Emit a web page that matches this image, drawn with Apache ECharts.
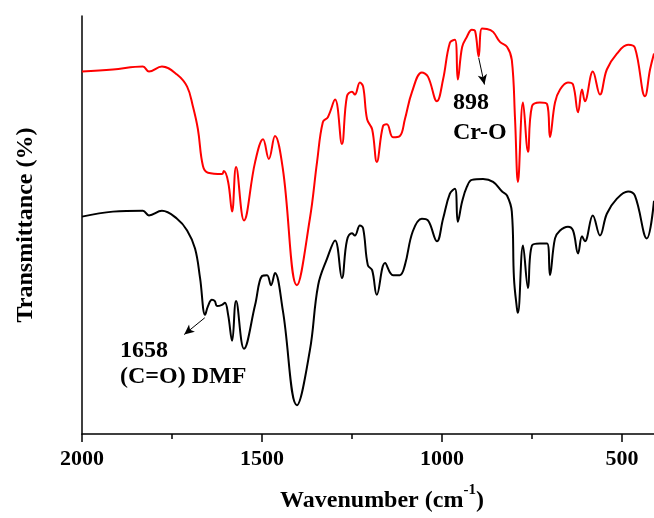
<!DOCTYPE html>
<html>
<head>
<meta charset="utf-8">
<script src="https://cdn.jsdelivr.net/npm/echarts@6/dist/echarts.min.js"></script>
<style>
  html, body { margin: 0; padding: 0; background: #fff; }
  #chart { width: 654px; height: 518px; }
</style>
</head>
<body>
<div id="chart"></div>
<script>
// FTIR spectra, transmittance (arbitrary offset units) vs wavenumber (cm-1)
var wnTop = [2000, 1914, 1831, 1814, 1778, 1736, 1708, 1692, 1678, 1664, 1650, 1611, 1606, 1594, 1583, 1572, 1550, 1519, 1497, 1481, 1464, 1442, 1403, 1367, 1347, 1331, 1317, 1297, 1278, 1264, 1250, 1242, 1228, 1219, 1208, 1194, 1181, 1164, 1153, 1136, 1117, 1103, 1083, 1056, 1039, 1014, 997, 978, 964, 956, 944, 931, 917, 908, 898, 889, 875, 858, 839, 819, 806, 797, 789, 775, 761, 750, 728, 708, 700, 686, 672, 650, 636, 622, 611, 603, 581, 561, 542, 514, 483, 464, 436, 422, 411];
var tTop = [86.7, 87.2, 87.9, 86.7, 87.9, 86.0, 83.1, 78.4, 72.9, 64.1, 62.5, 62.2, 62.9, 60.3, 53.2, 63.9, 51.1, 65.1, 70.5, 65.8, 71.3, 63.4, 35.6, 51.5, 65.1, 74.6, 75.8, 80.0, 69.4, 80.8, 81.9, 81.2, 84.1, 83.1, 75.3, 72.9, 65.1, 73.6, 74.1, 71.0, 71.3, 75.3, 81.9, 86.5, 85.5, 79.6, 84.8, 93.6, 94.3, 84.8, 92.6, 95.0, 96.7, 96.4, 90.3, 97.0, 96.9, 96.2, 93.8, 92.6, 89.5, 75.3, 60.3, 79.3, 67.5, 78.4, 79.3, 78.9, 71.0, 79.3, 82.4, 84.1, 83.6, 77.0, 82.4, 79.6, 86.7, 81.2, 87.2, 91.0, 93.1, 92.4, 80.8, 87.2, 91.0];

var wnBottom = [2000, 1914, 1831, 1814, 1778, 1736, 1708, 1686, 1672, 1658, 1650, 1639, 1631, 1625, 1611, 1603, 1594, 1583, 1572, 1550, 1519, 1500, 1486, 1475, 1464, 1442, 1403, 1367, 1344, 1319, 1297, 1278, 1264, 1250, 1242, 1228, 1219, 1206, 1194, 1181, 1158, 1136, 1117, 1103, 1081, 1056, 1039, 1014, 997, 978, 964, 956, 944, 931, 917, 886, 858, 833, 819, 806, 800, 792, 789, 775, 761, 750, 728, 708, 700, 686, 672, 650, 636, 622, 611, 603, 581, 561, 542, 514, 483, 464, 431, 411];
var tBottom = [52.0, 53.2, 53.4, 52.3, 53.4, 51.5, 48.7, 44.4, 37.3, 28.5, 30.6, 32.1, 31.8, 30.6, 30.9, 31.4, 28.5, 22.3, 31.8, 20.4, 30.9, 37.8, 38.0, 35.6, 38.5, 29.5, 6.9, 20.0, 35.6, 42.0, 46.3, 37.3, 46.3, 48.0, 47.5, 49.9, 49.2, 40.4, 39.2, 33.3, 40.9, 38.0, 38.0, 40.4, 48.5, 51.5, 51.1, 46.1, 51.5, 57.5, 58.7, 50.8, 55.6, 59.1, 60.8, 61.0, 60.3, 58.0, 57.0, 53.2, 37.3, 30.2, 29.0, 45.1, 34.9, 45.1, 45.6, 45.6, 38.0, 46.8, 48.7, 49.6, 48.7, 43.2, 47.3, 46.1, 52.3, 47.5, 52.7, 56.3, 58.0, 57.0, 46.8, 55.8];

var majorTicks = [2000, 1500, 1000, 500];
var minorTicks = [1750, 1250, 750];

// Peak markers: [wavenumber, transmittance] of the band and of the arrow tip
var crPeak = [898, 90.0], crTip = [882, 83.6];
var coPeak = [1659, 27.8], coTip = [1716, 23.8];

function pairs(xs, ys) {
  return xs.map(function (x, i) { return [x, ys[i]]; });
}

var serif = "'Liberation Serif', 'Times New Roman', serif";

var chart = echarts.init(document.getElementById('chart'), null, { renderer: 'canvas' });

function arrowLine(from, to) {
  return {
    silent: true,
    symbol: ['none', 'arrow'],
    symbolSize: [7, 10],
    label: { show: false },
    lineStyle: { color: '#000', width: 1, type: 'solid' },
    emphasis: { disabled: true },
    data: [[{ coord: from }, { coord: to }]]
  };
}

// The scan stops at 411 cm-1, right at the canvas edge
var wnMin = 411, wnMax = 2000;

chart.setOption({
  animation: false,
  backgroundColor: '#fff',
  grid: { left: 82, top: 16, right: 0, bottom: 81, containLabel: false },
  xAxis: [
    {
      type: 'value', min: wnMin, max: wnMax, inverse: true,
      name: '{t|Wavenumber (cm}{s|-1}{t|)}',
      nameLocation: 'middle', nameGap: 49,
      nameTextStyle: {
        padding: [0, 0, 0, 28],
        rich: {
          t: { fontFamily: serif, fontWeight: 'bold', fontSize: 24, color: '#000', verticalAlign: 'bottom', lineHeight: 30 },
          s: { fontFamily: serif, fontWeight: 'bold', fontSize: 15, color: '#000', verticalAlign: 'top', lineHeight: 30, padding: [0, 0, 12, 0] }
        }
      },
      axisLine: { show: true, onZero: false, lineStyle: { color: '#000', width: 1.5 } },
      axisTick: { show: true, inside: false, length: 8, customValues: majorTicks, lineStyle: { color: '#000', width: 1.5 } },
      axisLabel: {
        show: true, customValues: majorTicks, margin: 14,
        fontFamily: serif, fontWeight: 'bold', fontSize: 22, color: '#000',
        formatter: function (v) { return String(v); }
      },
      splitLine: { show: false }
    },
    {
      type: 'value', min: wnMin, max: wnMax, inverse: true, position: 'bottom',
      axisLine: { show: false },
      axisTick: { show: true, inside: false, length: 5, customValues: minorTicks, lineStyle: { color: '#000', width: 1.5 } },
      axisLabel: { show: false },
      splitLine: { show: false }
    }
  ],
  yAxis: {
    type: 'value', min: 0, max: 100,
    name: 'Transmittance (%)', nameLocation: 'middle', nameGap: 44, nameRotate: 90,
    nameTextStyle: { fontFamily: serif, fontWeight: 'bold', fontSize: 24, color: '#000' },
    axisLine: { show: true, onZero: false, lineStyle: { color: '#000', width: 1.5 } },
    axisTick: { show: false },
    axisLabel: { show: false },
    splitLine: { show: false }
  },
  series: [
    {
      type: 'line', name: 'top', data: pairs(wnTop, tTop),
      showSymbol: false, smooth: 0.4, clip: true,
      lineStyle: { color: '#ff0000', width: 2 },
      markLine: arrowLine(crPeak, crTip)
    },
    {
      type: 'line', name: 'bottom', data: pairs(wnBottom, tBottom),
      showSymbol: false, smooth: 0.4, clip: true,
      lineStyle: { color: '#000', width: 2 },
      markLine: arrowLine(coPeak, coTip)
    }
  ],
  graphic: [
    { type: 'text', left: 453, top: 91, style: { text: '898', font: 'bold 24px ' + serif, fill: '#000' } },
    { type: 'text', left: 453, top: 121, style: { text: 'Cr-O', font: 'bold 24px ' + serif, fill: '#000' } },
    { type: 'text', left: 120, top: 339, style: { text: '1658', font: 'bold 24px ' + serif, fill: '#000' } },
    { type: 'text', left: 120, top: 365, style: { text: '(C=O) DMF', font: 'bold 24px ' + serif, fill: '#000' } }
  ]
});
</script>
</body>
</html>
